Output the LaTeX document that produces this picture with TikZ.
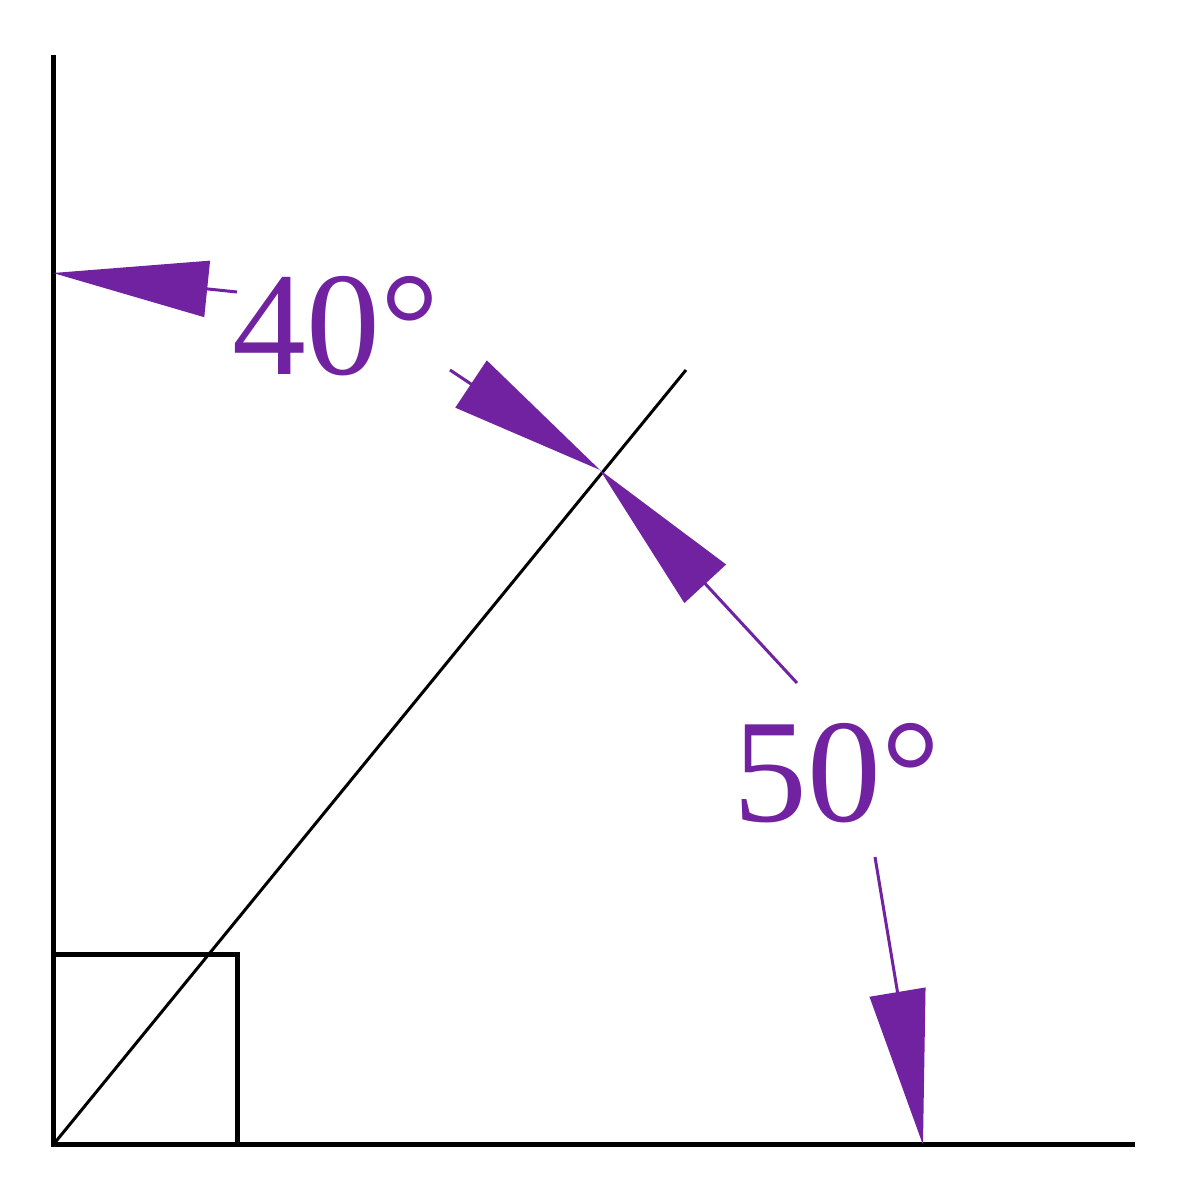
\documentclass[tikz,border=0pt]{standalone}
\usepackage{fontspec}
\setmainfont{Liberation Serif}
\usetikzlibrary{arrows.meta, positioning, calc}
\definecolor{anglepurple}{RGB}{112,34,160}

\begin{document}
\begin{tikzpicture}[scale=1]
	\tikzstyle{axis} = [line width=.5mm, black]
	\tikzstyle{ray} = [line width=.3mm, black]
	\tikzstyle{dim} = [
	line width=.3mm,
	anglepurple,
	-{Triangle[length=1.55cm, width=.56cm]}
	]
	\tikzstyle{deg} = [anglepurple, inner sep=0pt, font=\fontsize{42}{42}\selectfont]
	
	\useasboundingbox (0,0) rectangle (12,12);
	\coordinate (o) at (0.53,0.55);
	\coordinate (top) at (0.53,11.45);
	\coordinate (end) at (11.35,0.55);
	\coordinate (corner) at (2.37,2.45);
	\coordinate (rayend) at (6.86,8.30);
	
	\node[deg] (t40) at (3.36,8.74) {40°};
	\node[deg] (t50) at (8.37,4.27) {50°};
	
	\coordinate (tip40) at (0.53,9.27);
	\coordinate (tail40) at (2.37,9.08);
	\coordinate (tipmid) at (6.00,7.30);
	\coordinate (tailmid40) at (4.50,8.30);
	\coordinate (tailmid50) at (7.97,5.17);
	\coordinate (tip50) at (9.23,0.55);
	\coordinate (tail50) at (8.75,3.43);
	
	\draw[axis] (top) -- (o) -- (end);
	\draw[axis] (o) rectangle (corner);
	\draw[ray] (o) -- (rayend);
	
	\draw[dim] (tail40) to (tip40);
	\draw[dim] (tailmid40) to (tipmid);
	\draw[dim] (tailmid50) to (tipmid);
	\draw[dim] (tail50) to (tip50);
\end{tikzpicture}
\end{document}
